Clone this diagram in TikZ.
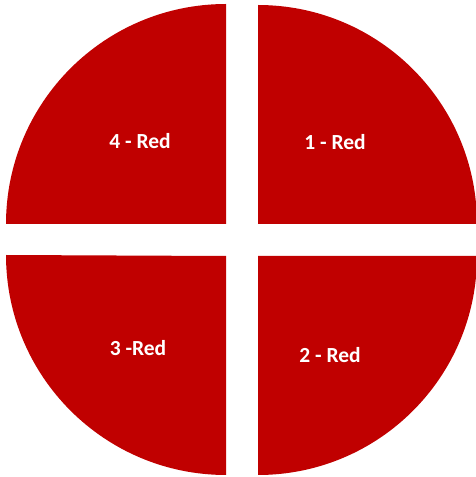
\documentclass[tikz,border=0pt]{standalone}
\usepackage{fontspec}
\setmainfont{Carlito}
\definecolor{qred}{HTML}{C00000}
\begin{document}
\begin{tikzpicture}[x=1pt,y=1pt,
  quarter/.style={fill=qred,draw=none},
  lbl/.style={text=white,font=\bfseries\fontsize{21.5}{24}\selectfont}]
\useasboundingbox (0,0) rectangle (476,477);
\fill[quarter] (226,253) -- (6,253) arc[start angle=180,end angle=90,radius=220] -- cycle;
\fill[quarter] (258,253) -- (258,472) arc[start angle=90,end angle=0,radius=219] -- cycle;
\fill[quarter] (226,221) -- (226,2) arc[start angle=270,end angle=180,radius=220] -- cycle;
\fill[quarter] (258,221) -- (477,221) arc[start angle=0,end angle=-90,radius=219] -- cycle;
\node[lbl] (n4) at (140,336) {4 - Red};
\node[lbl] (n1) at (335,335) {1 - Red};
\node[lbl] (n3) at (138,129) {3 -Red};
\node[lbl] (n2) at (330,122) {2 - Red};
\end{tikzpicture}
\end{document}
